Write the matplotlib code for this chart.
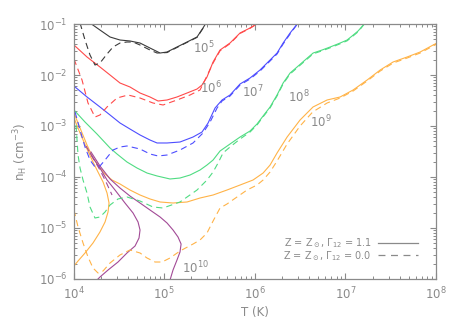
import numpy as np
import matplotlib
matplotlib.use('Agg')
import matplotlib.pyplot as plt
from matplotlib.lines import Line2D

plt.rcParams['font.family'] = 'DejaVu Sans'
plt.rcParams['mathtext.default'] = 'regular'
plt.rcParams['lines.scale_dashes'] = False

grey = '#8a8a8a'

# contour data, log10 T and log10 n_H
# 1e5 (black)
t5 = [4.182, 4.292, 4.403, 4.513, 4.623, 4.734, 4.844, 4.955, 5.032, 5.142, 5.253, 5.363, 5.429, 5.462]
n5 = [-0.98, -1.118, -1.255, -1.314, -1.333, -1.373, -1.471, -1.569, -1.549, -1.451, -1.353, -1.255, -1.078, -0.98]
t5d = [4.072, 4.127, 4.182, 4.237, 4.292, 4.370, 4.436, 4.513, 4.590, 4.657, 4.734, 4.844, 4.922, 5.032, 5.142, 5.253, 5.363, 5.429, 5.462]
n5d = [-0.98, -1.314, -1.608, -1.804, -1.765, -1.588, -1.451, -1.373, -1.353, -1.353, -1.412, -1.510, -1.569, -1.560, -1.460, -1.360, -1.262, -1.085, -0.98]

# 1e6 (red)
t6 = [4.005, 4.149, 4.292, 4.403, 4.513, 4.623, 4.734, 4.844, 4.933, 5.032, 5.142, 5.253, 5.363, 5.418, 5.473, 5.540, 5.617, 5.727, 5.838, 5.948, 6.036]
n6 = [-1.412, -1.647, -1.843, -2.0, -2.157, -2.235, -2.353, -2.431, -2.510, -2.490, -2.431, -2.353, -2.275, -2.196, -2.039, -1.745, -1.510, -1.373, -1.176, -1.078, -0.98]
t6d = [4.005, 4.094, 4.160, 4.237, 4.292, 4.370, 4.480, 4.602, 4.734, 4.877, 4.988, 5.142, 5.286, 5.396, 5.451, 5.540, 5.617, 5.727, 5.838, 5.948, 6.040]
n6d = [-1.686, -2.098, -2.549, -2.824, -2.784, -2.627, -2.451, -2.392, -2.451, -2.549, -2.588, -2.490, -2.392, -2.294, -2.098, -1.765, -1.525, -1.385, -1.185, -1.085, -0.98]

# 1e7 (blue)
t7 = [4.005, 4.149, 4.292, 4.403, 4.513, 4.623, 4.734, 4.844, 4.922, 5.032, 5.175, 5.319, 5.418, 5.485, 5.562, 5.639, 5.727, 5.838, 5.948, 6.058, 6.169, 6.246, 6.313, 6.390, 6.478]
n7 = [-2.216, -2.431, -2.627, -2.784, -2.941, -3.059, -3.176, -3.275, -3.333, -3.333, -3.314, -3.216, -3.118, -2.941, -2.647, -2.490, -2.392, -2.176, -2.059, -1.902, -1.706, -1.569, -1.373, -1.176, -0.98]
t7d = [4.017, 4.072, 4.127, 4.182, 4.237, 4.292, 4.348, 4.436, 4.513, 4.590, 4.734, 4.844, 4.933, 5.032, 5.175, 5.319, 5.429, 5.507, 5.584, 5.639, 5.727, 5.838, 5.948, 6.058, 6.169, 6.246, 6.313, 6.390, 6.478]
n7d = [-2.725, -3.078, -3.412, -3.667, -3.804, -3.784, -3.667, -3.471, -3.412, -3.392, -3.451, -3.549, -3.588, -3.569, -3.471, -3.333, -3.137, -2.922, -2.647, -2.510, -2.412, -2.196, -2.078, -1.922, -1.725, -1.588, -1.392, -1.196, -0.98]

# 1e8 (green)
t8 = [4.005, 4.127, 4.259, 4.403, 4.480, 4.590, 4.701, 4.811, 4.922, 5.065, 5.175, 5.286, 5.396, 5.473, 5.540, 5.617, 5.727, 5.838, 5.948, 6.025, 6.092, 6.169, 6.246, 6.313, 6.390, 6.467, 6.555, 6.644, 6.743, 6.832, 6.942, 7.019, 7.074, 7.140, 7.218]
n8 = [-2.686, -2.922, -3.157, -3.431, -3.549, -3.706, -3.824, -3.922, -3.980, -4.039, -4.020, -3.961, -3.863, -3.765, -3.667, -3.490, -3.353, -3.216, -3.098, -2.961, -2.804, -2.627, -2.392, -2.157, -1.961, -1.843, -1.706, -1.569, -1.510, -1.451, -1.373, -1.314, -1.235, -1.137, -0.98]
t8d = [4.028, 4.039, 4.050, 4.072, 4.105, 4.149, 4.182, 4.237, 4.292, 4.348, 4.403, 4.491, 4.590, 4.734, 4.877, 4.988, 5.175, 5.363, 5.473, 5.540, 5.595, 5.650, 5.727, 5.838, 5.948, 6.025, 6.092, 6.169, 6.246, 6.313, 6.390, 6.467, 6.556, 6.644, 6.744, 6.832, 6.942, 7.019, 7.074, 7.141, 7.218]
n8d = [-2.980, -3.275, -3.569, -3.824, -4.059, -4.314, -4.588, -4.804, -4.784, -4.686, -4.549, -4.431, -4.392, -4.471, -4.588, -4.608, -4.490, -4.255, -4.059, -3.902, -3.725, -3.529, -3.412, -3.255, -3.118, -2.980, -2.820, -2.645, -2.410, -2.175, -1.980, -1.860, -1.722, -1.585, -1.525, -1.466, -1.388, -1.330, -1.250, -1.152, -0.98]

# 1e9 (orange): main branch and the closed "nose" near 10^4 K
t9a = [4.005, 4.072, 4.149, 4.215, 4.292, 4.348, 4.425, 4.513, 4.623, 4.734, 4.844, 4.955, 5.098, 5.253, 5.396, 5.540, 5.694, 5.838, 5.981, 6.092, 6.169, 6.246, 6.357, 6.500, 6.643, 6.798, 6.942, 7.085, 7.240, 7.384, 7.526, 7.681, 7.825, 7.968, 8.01]
n9a = [-2.745, -3.039, -3.373, -3.627, -3.824, -3.941, -4.059, -4.137, -4.255, -4.353, -4.431, -4.490, -4.510, -4.490, -4.412, -4.353, -4.255, -4.157, -4.059, -3.922, -3.765, -3.529, -3.216, -2.882, -2.627, -2.490, -2.431, -2.294, -2.098, -1.902, -1.745, -1.647, -1.549, -1.412, -1.373]
t9b = [4.005, 4.072, 4.149, 4.215, 4.270, 4.326, 4.370, 4.392, 4.381, 4.348, 4.292, 4.215, 4.127, 4.050, 4.005]
n9b = [-2.843, -3.137, -3.451, -3.706, -3.902, -4.098, -4.314, -4.510, -4.686, -4.882, -5.078, -5.294, -5.490, -5.647, -5.745]
t9d = [4.005, 4.050, 4.105, 4.160, 4.215, 4.270, 4.326, 4.403, 4.513, 4.623, 4.734, 4.811, 4.900, 4.977, 5.065, 5.175, 5.319, 5.396, 5.473, 5.540, 5.617, 5.694, 5.804, 5.915, 6.025, 6.092, 6.169, 6.246, 6.357, 6.500, 6.639, 6.798, 6.942, 7.085, 7.240, 7.384, 7.528, 7.681, 7.825, 7.968, 8.01]
n9d = [-4.647, -4.980, -5.294, -5.569, -5.784, -5.882, -5.843, -5.686, -5.529, -5.431, -5.490, -5.588, -5.667, -5.667, -5.588, -5.451, -5.314, -5.235, -5.098, -4.863, -4.608, -4.529, -4.392, -4.255, -4.157, -4.059, -3.902, -3.686, -3.353, -3.0, -2.725, -2.549, -2.451, -2.314, -2.118, -1.922, -1.765, -1.667, -1.569, -1.431, -1.392]

# 1e10 (purple): two noses
t10a = [4.182, 4.215, 4.292, 4.370, 4.458, 4.568, 4.657, 4.712, 4.734, 4.723, 4.679, 4.590, 4.491, 4.381, 4.292, 4.259]
n10a = [-3.529, -3.627, -3.824, -4.059, -4.255, -4.510, -4.706, -4.882, -5.039, -5.196, -5.353, -5.490, -5.667, -5.824, -5.961, -6.02]
t10b = [4.193, 4.292, 4.403, 4.513, 4.623, 4.734, 4.844, 4.955, 5.032, 5.098, 5.153, 5.187, 5.175, 5.142, 5.098, 5.065]
n10b = [-3.510, -3.784, -4.039, -4.216, -4.373, -4.510, -4.647, -4.784, -4.902, -5.039, -5.176, -5.314, -5.471, -5.627, -5.824, -6.02]
t10d = [4.138, 4.215, 4.292, 4.359, 4.425]
n10d = [-3.392, -3.627, -3.863, -4.098, -4.353]

labels = ['$10^5$', '$10^6$', '$10^7$', '$10^8$', '$10^9$', '$10^{10}$']
label_t = [5.321, 5.396, 5.860, 6.368, 6.610, 5.198]
label_n = [-1.471, -2.255, -2.333, -2.431, -2.922, -5.784]

c_black = '#3a3a3a'
c_red = '#ff4a4a'
c_blue = '#4d4dff'
c_green = '#4fdc82'
c_orange = '#ffb347'
c_purple = '#a24a96'

solid = [(t5, n5, c_black), (t6, n6, c_red), (t7, n7, c_blue), (t8, n8, c_green),
         (t9a, n9a, c_orange), (t9b, n9b, c_orange), (t10a, n10a, c_purple), (t10b, n10b, c_purple)]
dashed = [(t5d, n5d, c_black), (t6d, n6d, c_red), (t7d, n7d, c_blue), (t8d, n8d, c_green),
          (t9d, n9d, c_orange), (t10d, n10d, c_purple)]

fig = plt.figure(figsize=(4.58, 3.27), dpi=100)
ax = fig.add_axes([0.1605, 0.1468, 0.7915, 0.7798])

for t, n, c in solid:
    ax.plot(10**np.array(t), 10**np.array(n), color=c, lw=0.8)
for t, n, c in dashed:
    ax.plot(10**np.array(t), 10**np.array(n), color=c, lw=0.8, linestyle=(0, (4.5, 3)))

for s, t, n in zip(labels, label_t, label_n):
    ax.text(10**t, 10**n, s, color=grey, fontsize=8.5, va='center', ha='left')

ax.set_xscale('log')
ax.set_yscale('log')
ax.set_xlim(1e4, 1e8)
ax.set_ylim(1e-6, 1e-1)

for sp in ax.spines.values():
    sp.set_color(grey)
    sp.set_linewidth(0.9)
ax.tick_params(which='both', direction='in', top=True, right=True, colors=grey, labelsize=8.5)
ax.tick_params(which='major', length=4, width=0.8, pad=4.5)
ax.tick_params(which='minor', length=2.2, width=0.7)

ax.set_xlabel('T (K)', color=grey, fontsize=8.5, labelpad=3)
ax.set_ylabel(r'$n_H$ (cm$^{-3}$)', color=grey, fontsize=8.5, labelpad=6)

handles = [Line2D([], [], color=grey, lw=0.9),
           Line2D([], [], color=grey, lw=0.9, linestyle=(0, (5, 4)))]
names = [r'Z = Z$_\odot$, $\Gamma_{12}$ = 1.1', r'Z = Z$_\odot$, $\Gamma_{12}$ = 0.0']
leg = ax.legend(handles, names, loc='lower right', bbox_to_anchor=(0.965, 0.045),
                frameon=False, markerfirst=False, fontsize=7, handlelength=4.2,
                labelspacing=-0.1, handletextpad=0.6, borderpad=0)
for txt in leg.get_texts():
    txt.set_color(grey)

fig.savefig('out.png', dpi=100)
